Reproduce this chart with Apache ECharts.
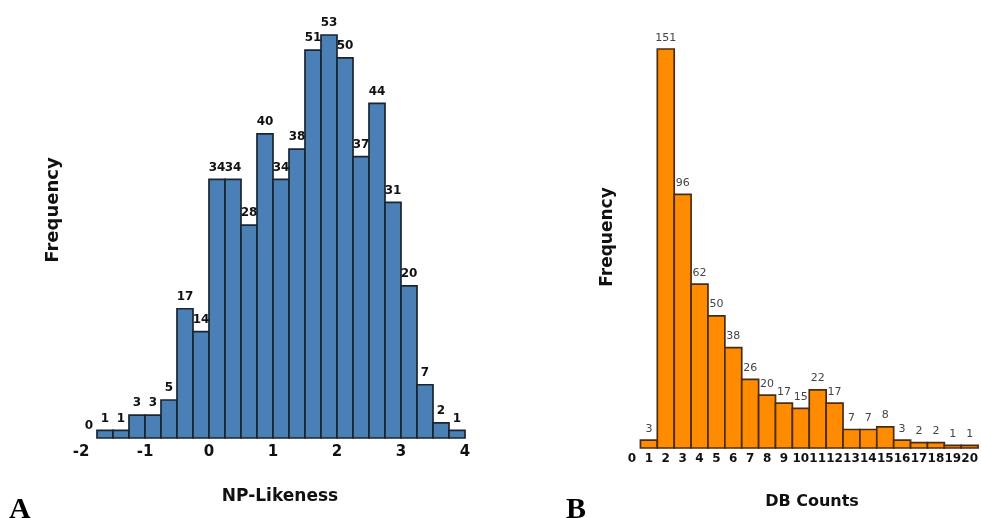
<!DOCTYPE html>
<html>
<head>
<meta charset="utf-8">
<script src="https://cdn.jsdelivr.net/npm/echarts@6/dist/echarts.min.js"></script>
<style>
html,body{margin:0;padding:0;background:#fff;}
#c{width:981px;height:518px;}
</style>
</head>
<body>
<div id="c"></div>
<script>
// Panel A: NP-Likeness histogram (bin left edge, bin right edge, count)
const npBinLeft  = [-2, -1.75, -1.5, -1.25, -1, -0.75, -0.5, -0.25, 0, 0.25, 0.5, 0.75, 1, 1.25, 1.5, 1.75, 2, 2.25, 2.5, 2.75, 3, 3.25, 3.5, 3.75];
const npBinRight = [-1.75, -1.5, -1.25, -1, -0.75, -0.5, -0.25, 0, 0.25, 0.5, 0.75, 1, 1.25, 1.5, 1.75, 2, 2.25, 2.5, 2.75, 3, 3.25, 3.5, 3.75, 4];
const npCounts   = [0, 1, 1, 3, 3, 5, 17, 14, 34, 34, 28, 40, 34, 38, 51, 53, 50, 37, 44, 31, 20, 7, 2, 1];
const npTicks    = [-2, -1, 0, 1, 2, 3, 4];

// Panel B: DB Counts histogram (integer bins)
const dbCategories = [1, 2, 3, 4, 5, 6, 7, 8, 9, 10, 11, 12, 13, 14, 15, 16, 17, 18, 19, 20];
const dbCounts     = [3, 151, 96, 62, 50, 38, 26, 20, 17, 15, 22, 17, 7, 7, 8, 3, 2, 2, 1, 1];
const dbTicks      = [0, 1, 2, 3, 4, 5, 6, 7, 8, 9, 10, 11, 12, 13, 14, 15, 16, 17, 18, 19, 20];

const npData = npCounts.map((v, i) => [npBinLeft[i], npBinRight[i], v]);
const dbData = dbCounts.map((v, i) => [dbCategories[i] - 0.5, dbCategories[i] + 0.5, v]);

function makeRender(fill, stroke, labelFont, labelColor, dist) {
  return function (params, api) {
    const x0 = api.value(0), x1 = api.value(1), v = api.value(2);
    const p0 = api.coord([x0, v]);
    const p1 = api.coord([x1, 0]);
    return {
      type: 'rect',
      shape: { x: p0[0], y: p0[1], width: p1[0] - p0[0], height: p1[1] - p0[1] },
      style: { fill: fill, stroke: v > 0 ? stroke : 'rgba(0,0,0,0)', lineWidth: 1.7 },
      textContent: {
        type: 'text',
        style: { text: String(v), font: labelFont, fill: labelColor }
      },
      textConfig: { position: 'top', distance: dist }
    };
  };
}

const chart = echarts.init(document.getElementById('c'), null, { renderer: 'canvas' });
chart.setOption({
  animation: false,
  backgroundColor: '#ffffff',
  grid: [
    { left: 81, right: 516, top: 35, bottom: 80 },
    { left: 632, right: 8, top: 49, bottom: 70 }
  ],
  xAxis: [
    {
      gridIndex: 0, type: 'value', min: -2, max: 4, interval: 1,
      axisLine: { show: false }, axisTick: { show: false }, splitLine: { show: false },
      axisLabel: {
        margin: 7, color: '#111', fontFamily: 'DejaVu Sans', fontWeight: 'bold', fontSize: 15,
        formatter: v => npTicks.includes(v) ? String(v) : ''
      }
    },
    {
      gridIndex: 1, type: 'value', min: 0, max: 20, interval: 1,
      axisLine: { show: false }, axisTick: { show: false }, splitLine: { show: false },
      axisLabel: {
        margin: 5, color: '#111', fontFamily: 'DejaVu Sans', fontWeight: 'bold', fontSize: 12,
        formatter: v => dbTicks.includes(v) ? String(v) : ''
      }
    }
  ],
  yAxis: [
    { gridIndex: 0, type: 'value', min: 0, max: 53, show: false, splitLine: { show: false } },
    { gridIndex: 1, type: 'value', min: 0, max: 151, show: false, splitLine: { show: false } }
  ],
  series: [
    {
      type: 'custom', xAxisIndex: 0, yAxisIndex: 0, clip: false,
      encode: { x: [0, 1], y: 2 },
      renderItem: makeRender('#4a80b6', '#1a2433', 'bold 12px "DejaVu Sans"', '#111', 5),
      data: npData
    },
    {
      type: 'custom', xAxisIndex: 1, yAxisIndex: 1, clip: false,
      encode: { x: [0, 1], y: 2 },
      renderItem: makeRender('#ff8c00', '#4a2c14', '11px "DejaVu Sans"', '#444', 5),
      data: dbData
    }
  ],
  graphic: [
    { type: 'text', x: 53, y: 210, rotation: Math.PI / 2,
      style: { text: 'Frequency', font: 'bold 18px "DejaVu Sans"', fill: '#111', align: 'center', verticalAlign: 'middle' } },
    { type: 'text', x: 608, y: 237, rotation: Math.PI / 2,
      style: { text: 'Frequency', font: 'bold 17px "DejaVu Sans"', fill: '#111', align: 'center', verticalAlign: 'middle' } },
    { type: 'text', x: 280, y: 497,
      style: { text: 'NP-Likeness', font: 'bold 17px "DejaVu Sans"', fill: '#111', align: 'center', verticalAlign: 'middle' } },
    { type: 'text', x: 812, y: 502,
      style: { text: 'DB Counts', font: 'bold 16px "DejaVu Sans"', fill: '#111', align: 'center', verticalAlign: 'middle' } },
    { type: 'text', x: 9, y: 510,
      style: { text: 'A', font: 'bold 30px "Liberation Serif"', fill: '#000', align: 'left', verticalAlign: 'middle' } },
    { type: 'text', x: 566, y: 510,
      style: { text: 'B', font: 'bold 30px "Liberation Serif"', fill: '#000', align: 'left', verticalAlign: 'middle' } }
  ]
});
</script>
</body>
</html>
